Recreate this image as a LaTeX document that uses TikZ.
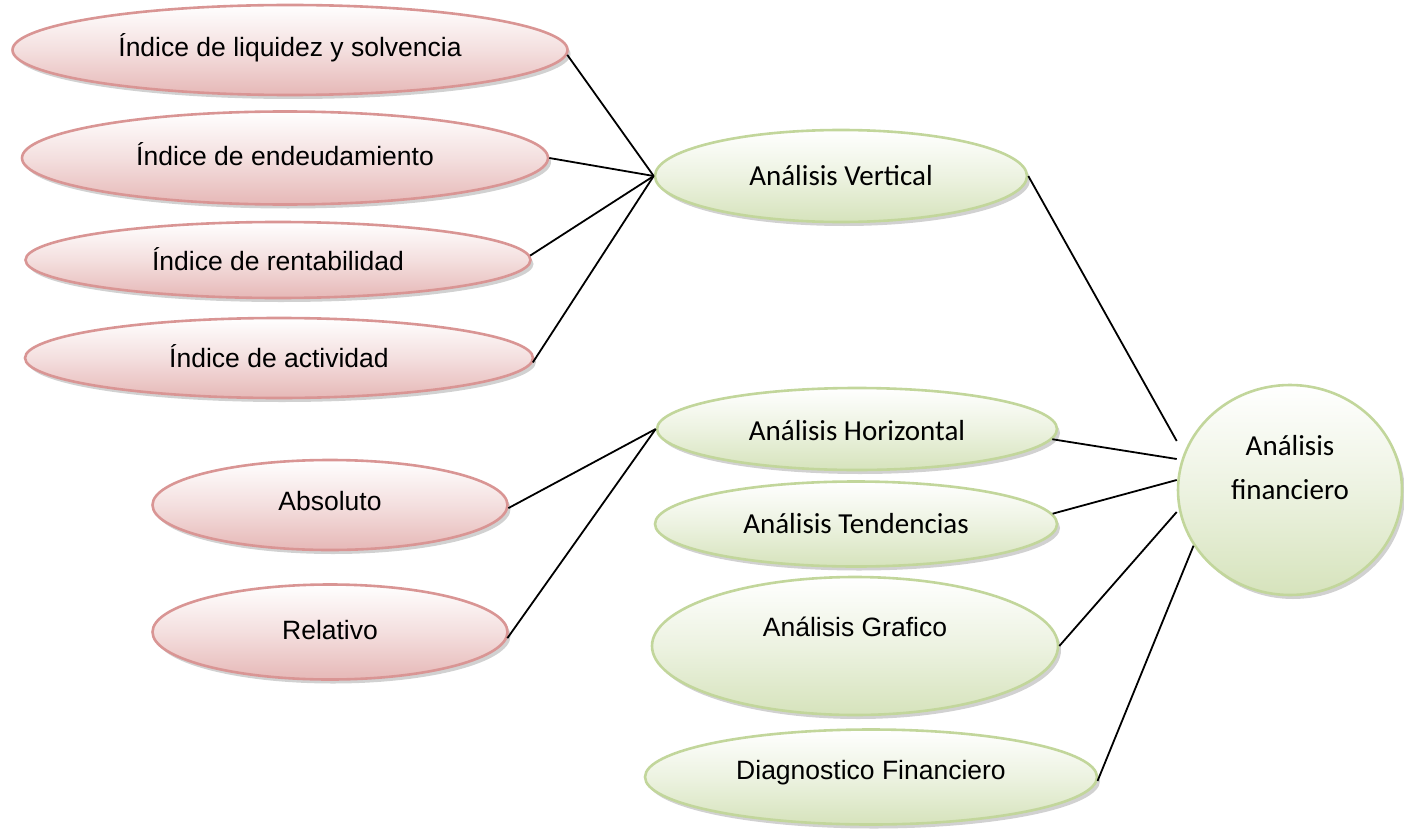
\documentclass[tikz,border=0pt]{standalone}
\usepackage{fontspec}
\setmainfont{Liberation Sans}
\newfontfamily\calibri{Carlito}
\usetikzlibrary{shapes.geometric,shadows}

\definecolor{pinkline}{RGB}{217,149,148}
\definecolor{pinkfill}{RGB}{230,184,183}
\definecolor{greenline}{RGB}{194,214,155}
\definecolor{greenfill}{RGB}{214,227,188}

\tikzset{
  blob/.style n args={2}{ellipse, inner sep=0pt, minimum width=#1, minimum height=#2,
    line width=2.6pt, drop shadow={fill=black!60, opacity=0.3, shadow xshift=3pt, shadow yshift=-4pt}},
  pinkell/.style 2 args={blob={#1}{#2}, draw=pinkline, top color=white, bottom color=pinkfill,
    middle color=pinkfill!45},
  greenell/.style 2 args={blob={#1}{#2}, draw=greenline, top color=white, bottom color=greenfill,
    middle color=greenfill!45},
  arialtxt/.style={font=\fontsize{26.5}{32}\selectfont, text=black},
  calibritxt/.style={font=\calibri\fontsize{29}{44}\selectfont, text=black, align=center},
  link/.style={line width=1.8pt, black}
}

\begin{document}
\begin{tikzpicture}[x=1pt, y=-1pt]
\useasboundingbox (0,0) rectangle (1404,832);

% indices (pink)
\node[pinkell={555}{90}, label={[arialtxt, yshift=2pt]center:Índice de liquidez y solvencia}] (liq) at (290,50) {};
\node[pinkell={526}{93}, label={[arialtxt, yshift=4pt]center:Índice de endeudamiento}] (end) at (285,158) {};
\node[pinkell={505}{76}, label={[arialtxt, yshift=1pt]center:Índice de rentabilidad}] (ren) at (278,260) {};
\node[pinkell={508}{80}, label={[arialtxt, yshift=2pt]center:Índice de actividad}] (act) at (279,358) {};
\node[pinkell={355}{90}, label={[arialtxt, yshift=4pt]center:Absoluto}] (abs) at (330,505) {};
\node[pinkell={355}{95}, label={[arialtxt, yshift=2pt]center:Relativo}] (rel) at (330,632) {};

% kinds of analysis (green)
\node[greenell={372}{92}, label={[calibritxt, yshift=0pt]center:Análisis Vertical}] (ver) at (841,176) {};
\node[greenell={400}{82}, label={[calibritxt, yshift=-2pt]center:Análisis Horizontal}] (hor) at (857,429) {};
\node[greenell={402}{85}, label={[calibritxt, yshift=0pt]center:Análisis Tendencias}] (ten) at (856,524) {};
\node[greenell={406}{138}, label={[arialtxt, yshift=19pt]center:Análisis Grafico}] (gra) at (855,646) {};
\node[greenell={452}{95}, label={[arialtxt, yshift=4pt]center:Diagnostico Financiero}] (dia) at (871,777) {};

% root
\node[greenell={224}{210}, label={[calibritxt, yshift=22pt]center:Análisis\\financiero}] (fin) at (1290,490) {};

% line ends just off the root's left side
\coordinate (finV) at ([yshift=49pt]fin.west);
\coordinate (finH) at ([yshift=31pt]fin.west);
\coordinate (finT) at ([yshift=10pt]fin.west);
\coordinate (finG) at ([yshift=-22pt]fin.west);
\coordinate (finD) at (fin.210);

% connectors
\draw[link] (liq.-1) -- (ver.west);
\draw[link] (end.east) -- (ver.west);
\draw[link] (ren.1) -- (ver.west);
\draw[link] (act.-1) -- (ver.west);
\draw[link] (abs.-1) -- (hor.west);
\draw[link] (rel.-2) -- (hor.west);

\draw[link] (ver.east) -- (finV);
\draw[link] (hor.-3) -- (finH);
\draw[link] (ten.3) -- (finT);
\draw[link] (gra.east) -- (finG);
\draw[link] (dia.-1) -- (finD);
\end{tikzpicture}
\end{document}
